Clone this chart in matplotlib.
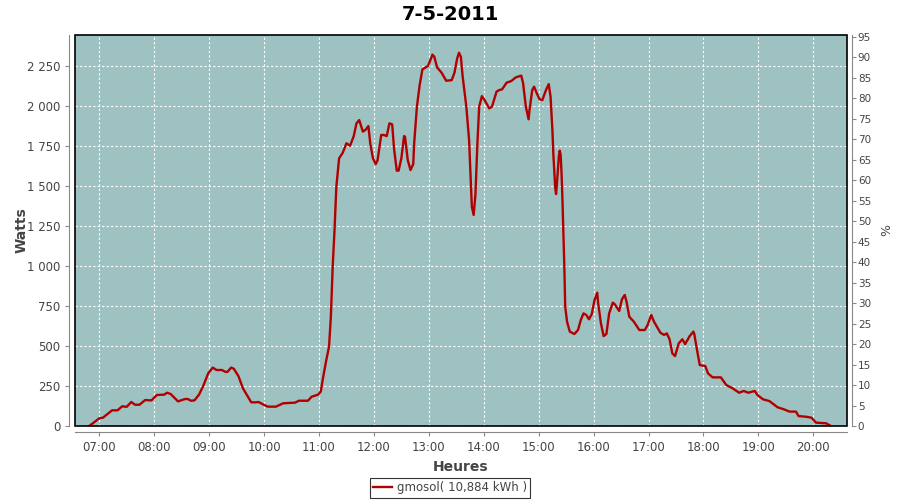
import matplotlib
matplotlib.use("Agg")
import matplotlib.pyplot as plt
import matplotlib.dates as mdates
from matplotlib.ticker import FuncFormatter, MultipleLocator
from matplotlib.patches import Rectangle
import pandas as pd

# readings for the day (time, watts)
times = [
    "06:49", "06:53", "07:00", "07:04", "07:14", "07:20", "07:25", "07:30", "07:35", "07:39",
    "07:44", "07:50", "07:57", "08:03", "08:11", "08:14", "08:18", "08:26", "08:34", "08:37",
    "08:40", "08:44", "08:49", "08:54", "08:59", "09:04", "09:08", "09:14", "09:18", "09:20",
    "09:24", "09:27", "09:32", "09:37", "09:46", "09:51", "09:54", "09:59", "10:04", "10:13",
    "10:21", "10:34", "10:38", "10:48", "10:52", "10:59", "11:02", "11:04", "11:08", "11:11",
    "11:13", "11:15", "11:17", "11:19", "11:22", "11:26", "11:30", "11:34", "11:38", "11:41",
    "11:44", "11:48", "11:51", "11:54", "11:56", "11:59", "12:02", "12:04", "12:08", "12:11",
    "12:14", "12:17", "12:20", "12:22", "12:25", "12:27", "12:30", "12:33", "12:34", "12:37",
    "12:40", "12:43", "12:44", "12:47", "12:50", "12:53", "12:59", "13:01", "13:04", "13:06",
    "13:09", "13:14", "13:19", "13:25", "13:28", "13:31", "13:33", "13:35", "13:37", "13:41",
    "13:44", "13:46", "13:47", "13:49", "13:51", "13:53", "13:55", "13:58", "14:02", "14:06",
    "14:09", "14:14", "14:17", "14:20", "14:25", "14:30", "14:35", "14:41", "14:43", "14:46",
    "14:49", "14:50", "14:53", "14:55", "14:58", "15:01", "15:04", "15:08", "15:11", "15:13",
    "15:15", "15:16", "15:18", "15:19", "15:20", "15:22", "15:23", "15:24", "15:25", "15:26",
    "15:27", "15:28", "15:29", "15:31", "15:34", "15:39", "15:43", "15:46", "15:49", "15:52",
    "15:55", "15:58", "16:01", "16:04", "16:05", "16:08", "16:11", "16:14", "16:17", "16:21",
    "16:23", "16:28", "16:31", "16:34", "16:36", "16:39", "16:44", "16:50", "16:56", "16:59",
    "17:03", "17:06", "17:13", "17:17", "17:20", "17:23", "17:26", "17:29", "17:33", "17:37",
    "17:40", "17:45", "17:49", "17:50", "17:53", "17:56", "18:02", "18:05", "18:10", "18:19",
    "18:25", "18:32", "18:39", "18:44", "18:49", "18:56", "18:59", "19:05", "19:12", "19:21",
    "19:28", "19:34", "19:41", "19:44", "19:52", "19:58", "20:03", "20:14", "20:18",
]
watts = [
    0, 17, 48, 52, 98, 98, 123, 120, 150, 133,
    133, 162, 160, 194, 196, 208, 200, 154, 169, 168,
    158, 160, 196, 256, 329, 365, 350, 350, 338, 338,
    365, 358, 312, 235, 148, 148, 150, 135, 121, 121,
    142, 146, 158, 158, 183, 196, 215, 287, 412, 496,
    683, 996, 1225, 1496, 1673, 1708, 1767, 1752, 1812, 1892,
    1912, 1840, 1852, 1875, 1767, 1673, 1637, 1660, 1819, 1819,
    1812, 1892, 1885, 1735, 1596, 1596, 1673, 1812, 1808, 1662,
    1600, 1637, 1767, 1996, 2131, 2229, 2250, 2277, 2321, 2308,
    2242, 2208, 2158, 2162, 2208, 2298, 2333, 2308, 2183, 1996,
    1787, 1517, 1371, 1319, 1454, 1756, 1996, 2062, 2027, 1985,
    1996, 2090, 2100, 2104, 2146, 2156, 2179, 2190, 2142, 1996,
    1917, 1975, 2100, 2121, 2079, 2042, 2037, 2100, 2137, 2058,
    1850, 1704, 1496, 1450, 1517, 1683, 1721, 1696, 1579, 1412,
    1215, 1006, 746, 652, 590, 575, 600, 662, 704, 694,
    667, 700, 787, 833, 767, 642, 562, 575, 704, 771,
    762, 719, 792, 819, 777, 683, 652, 600, 600, 631,
    694, 652, 583, 569, 579, 542, 454, 437, 517, 542,
    512, 562, 590, 575, 475, 381, 375, 329, 304, 304,
    256, 235, 208, 219, 208, 219, 194, 167, 156, 117,
    104, 90, 90, 62, 58, 52, 21, 17, 4,
]
day = "2011-05-07"
x_start, x_end = "06:33:30", "20:36:30"
title = "7-5-2011"
series_name = "gmosol( 10,884 kWh )"

bg = "#9EC2C2"
line_col = "#B00000"
txt_col = "#444444"
axis_col = "#888888"

t = pd.to_datetime([f"{day} {s}" for s in times])

fig = plt.figure(figsize=(9, 5), dpi=100)
ax = fig.add_axes([75 / 900, 74 / 500, 771.7 / 900, 391 / 500])
ax.set_facecolor(bg)

ax.plot(t, watts, color=line_col, lw=1.7, label=series_name, zorder=3)

ax.set_xlim(pd.Timestamp(f"{day} {x_start}"), pd.Timestamp(f"{day} {x_end}"))
ax.set_ylim(0, 2444)
ax.yaxis.set_major_locator(MultipleLocator(250))
ax.yaxis.set_major_formatter(FuncFormatter(lambda v, p: f"{v:,.0f}".replace(",", " ")))
ax.xaxis.set_major_locator(mdates.HourLocator())
ax.xaxis.set_major_formatter(mdates.DateFormatter("%H:%M"))

ax.grid(True, color="white", ls=(0, (2, 2)), lw=0.8)
ax.set_axisbelow(True)

# gray axis lines offset from black plot border
for side in ["left", "bottom"]:
    ax.spines[side].set_position(("outward", 4))
    ax.spines[side].set_color(axis_col)
for side in ["top", "right"]:
    ax.spines[side].set_visible(False)
ax.add_patch(Rectangle((0, 0), 1, 1, transform=ax.transAxes, fill=False,
                       ec="black", lw=1.2, zorder=5, clip_on=False))
ax.tick_params(colors=axis_col, labelcolor=txt_col, labelsize=8.5, length=3)

ax2 = ax.twinx()
ax2.set_ylim(0, 95.4)
ax2.yaxis.set_major_locator(MultipleLocator(5))
for side in ["left", "top", "bottom"]:
    ax2.spines[side].set_visible(False)
ax2.spines["right"].set_position(("outward", 4))
ax2.spines["right"].set_color(axis_col)
ax2.tick_params(colors=axis_col, labelcolor=txt_col, labelsize=7.5, length=3, pad=1)
ax2.set_ylabel("%", color=txt_col, fontsize=9)
ax2.yaxis.set_label_coords(1.043, 0.5)

ax.set_ylabel("Watts", color=txt_col, fontsize=10, fontweight="bold")
ax.yaxis.set_label_coords(-0.06, 0.5)
ax.set_xlabel("Heures", color=txt_col, fontsize=10, fontweight="bold")
ax.xaxis.set_label_coords(0.5, -0.087)
fig.text(0.5, 1 - 14 / 500, title, ha="center", va="center",
         fontsize=14, fontweight="bold")

leg = fig.legend(loc="center", bbox_to_anchor=(0.5, 0.024), fontsize=8.5,
                 frameon=True, fancybox=False, edgecolor="black",
                 handlelength=1.6, borderpad=0.3, handletextpad=0.4)
leg.get_frame().set_linewidth(0.8)
for text in leg.get_texts():
    text.set_color(txt_col)

fig.savefig("out.png", dpi=100)
plt.close(fig)
